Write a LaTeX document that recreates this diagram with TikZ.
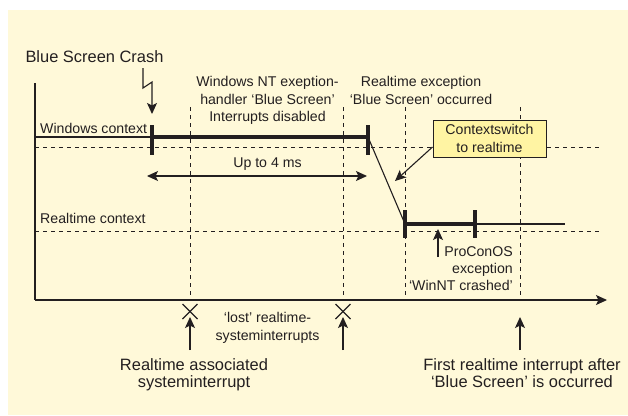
\documentclass[tikz,border=0pt]{standalone}
\usepackage{fontspec}
\setmainfont{Liberation Sans}
\usetikzlibrary{arrows.meta}

\definecolor{cream}{HTML}{FFF9D9}
\definecolor{boxyellow}{HTML}{FFF4A3}
\definecolor{ink}{HTML}{231F20}

\begin{document}
\begin{tikzpicture}[x=1bp, y=-1bp,
    >={Stealth[length=11bp, width=10bp, inset=2.5bp]},
    line/.style={draw=ink, line width=1.1bp},
    bar/.style={draw=ink, line width=3.8bp},
    grid/.style={draw=ink, line width=1bp, dash pattern=on 4bp off 4bp},
    arr/.style={draw=ink, line width=1.1bp, ->},
    small/.style={text=ink, inner sep=0pt, align=center, font=\fontsize{14.2}{17.2}\selectfont},
    big/.style={text=ink, inner sep=0pt, align=center, font=\fontsize{16.5}{17.5}\selectfont}]

    % background and page size
    \useasboundingbox (0,0) rectangle (628,415);
    \fill[cream] (8,10) rectangle (628,415);

    % axes
    \coordinate (O) at (35,300);
    \coordinate (top) at (35,83);
    \coordinate (tend) at (607,300);
    \draw[line] (top) -- (O);
    \draw[arr] (O) -- (tend);

    % context levels
    \draw[grid] (35,147) -- (602,147);
    \draw[grid] (35,231) -- (602,231);
    \node[small, anchor=base west] (wctx) at (40,133) {Windows context};
    \node[small, anchor=base west] (rctx) at (40,223) {Realtime context};

    % vertical time marks
    \foreach \x in {190,343,405,520} {
        \draw[grid] (\x,107) -- (\x,300);
    }

    % windows context timeline
    \coordinate (w0) at (35,137);
    \coordinate (w1) at (152,137);
    \coordinate (w2) at (368,137);
    \draw[line] (w0) -- (w1);
    \draw[bar] (w1) -- (w2);
    \draw[bar] (152,125) -- (152,155);
    \draw[bar] (368,125) -- (368,155);

    % switch over to realtime context
    \coordinate (r1) at (405,224);
    \coordinate (r2) at (475,224);
    \coordinate (r3) at (565,224);
    \draw[line] (w2) -- (r1);
    \draw[bar] (r1) -- (r2);
    \draw[line] (r2) -- (r3);
    \draw[bar] (405,210) -- (405,238);
    \draw[bar] (475,210) -- (475,238);

    % crash
    \node[big, anchor=base] (crash) at (94.5,62) {Blue Screen Crash};
    \draw[arr] (143,68) -- (143,88) -- (152,82) -- (152,114);

    % labels on top
    \node[small, anchor=north] (nt) at (267.5,76.5) {Windows NT exeption-\\handler ‘Blue Screen’\\Interrupts disabled};
    \node[small, anchor=north] (rtx) at (421,76.5) {Realtime exception\\‘Blue Screen’ occurred};

    % up to 4 ms
    \node[small, anchor=base] (ms) at (267.5,167) {Up to 4 ms};
    \coordinate (m0) at (147,176);
    \coordinate (m1) at (367,176);
    \draw[arr, <->] (m0) -- (m1);

    % context switch box
    \node[small, draw=ink, line width=1bp, fill=boxyellow, minimum width=113bp, minimum height=37bp] (cs) at (489.5,138.5) {Contextswitch\\to realtime};
    \coordinate (csend) at (395,181);
    \draw[arr] ([yshift=-8.5bp]cs.west) -- (csend);

    % ProConOS exception
    \coordinate (p0) at (438,257);
    \coordinate (p1) at (438,229);
    \draw[arr] (p0) -- (p1);
    \node[small, anchor=north east, align=right] (pcos) at (513,246.5) {ProConOS\\exception\\‘WinNT crashed’};

    % interrupts below the time axis
    \foreach \x/\nm in {190/a,343/b,520/c} {
        \coordinate (i\nm) at (\x,350);
        \coordinate (t\nm) at (\x,317);
        \draw[arr] (i\nm) -- (t\nm);
    }
    \foreach \x in {190,343} {
        \draw[line] (\x-7.5,304) -- (\x+7.5,319);
        \draw[line] (\x-7.5,319) -- (\x+7.5,304);
    }
    \node[small, anchor=north] (lost) at (267.5,312.5) {‘lost’ realtime-\\systeminterrupts};
    \node[big, anchor=north] (assoc) at (194,358) {Realtime associated\\systeminterrupt};
    \node[big, anchor=north] (first) at (522,358) {First realtime interrupt after\\‘Blue Screen’ is occurred};

\end{tikzpicture}
\end{document}
